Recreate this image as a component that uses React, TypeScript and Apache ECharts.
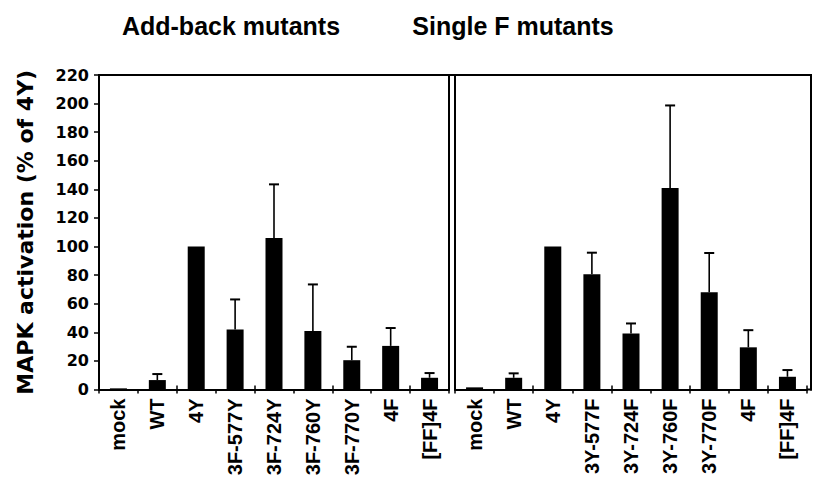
import React, { useEffect, useRef } from "react";
import * as echarts from "echarts";

const leftCategories = ["mock", "WT", "4Y", "3F-577Y", "3F-724Y", "3F-760Y", "3F-770Y", "4F", "[FF]4F"];
const leftMeans = [0.8, 6.6, 100, 42, 106, 41, 20.5, 30.5, 8.2];
const leftErrors = [0, 4.2, 0, 21, 37.5, 32.5, 9.4, 12.5, 3.3];

const rightCategories = ["mock", "WT", "4Y", "3Y-577F", "3Y-724F", "3Y-760F", "3Y-770F", "4F", "[FF]4F"];
const rightMeans = [1.5, 8.2, 100, 80.7, 39.2, 141, 68, 29.5, 8.9];
const rightErrors = [0, 3.1, 0, 15, 7, 57.7, 27.5, 12, 4.7];

const yTicks = { min: 0, max: 220, interval: 20 };

const panelTitles = ["Add-back mutants", "Single F mutants"];
const yAxisTitle = "MAPK activation (% of 4Y)";

const DV = "DejaVu Sans";
const LIB = "Liberation Sans";

function errorRender(params: any, api: any) {
  const idx = api.value(0);
  const mean = api.value(1);
  const err = api.value(2);
  if (!err) return { type: "group", children: [] };
  const base = api.coord([idx, mean]);
  const top = api.coord([idx, mean + err]);
  return {
    type: "group",
    children: [
      {
        type: "line",
        shape: { x1: base[0], y1: base[1], x2: top[0], y2: top[1] },
        style: { stroke: "#000", lineWidth: 1.6 },
      },
      {
        type: "line",
        shape: { x1: top[0] - 5, y1: top[1], x2: top[0] + 5, y2: top[1] },
        style: { stroke: "#000", lineWidth: 2 },
      },
    ],
  };
}

export default function App() {
  const ref = useRef<HTMLDivElement>(null);
  useEffect(() => {
    if (!ref.current) return;
    const chart = echarts.init(ref.current, null, { renderer: "svg" });
    const axisLine = { show: true, lineStyle: { color: "#000", width: 2 } };
    const xBase = (cats: string[], grid: number, inside: boolean, labels: boolean) => ({
      type: "category",
      gridIndex: grid,
      data: cats,
      position: "bottom",
      boundaryGap: true,
      axisLine: labels ? axisLine : { show: false },
      axisTick: { show: true, inside, length: 4, lineStyle: { color: "#000", width: 1.5 } },
      axisLabel: labels
        ? {
            show: true,
            rotate: 90,
            margin: 9,
            color: "#000",
            fontFamily: LIB,
            fontWeight: "bold",
            fontSize: 20,
            interval: 0,
          }
        : { show: false },
      splitLine: { show: false },
    });
    const titleStyle = { fontFamily: LIB, fontWeight: "bold", fontSize: 25, color: "#000" };
    const option: any = {
      animation: false,
      backgroundColor: "#fff",
      title: [
        { text: panelTitles[0], left: 226, top: 8, textAlign: "center", textStyle: titleStyle },
        { text: panelTitles[1], left: 508, top: 8, textAlign: "center", textStyle: titleStyle },
      ],
      grid: [
        { left: 99, right: 818 - 449, top: 75, bottom: 481 - 389.5 },
        { left: 455, right: 818 - 807, top: 75, bottom: 481 - 389.5 },
      ],
      xAxis: [
        xBase(leftCategories, 0, false, true),
        xBase(leftCategories, 0, true, false),
        xBase(rightCategories, 1, false, true),
        xBase(rightCategories, 1, true, false),
      ],
      yAxis: [
        {
          type: "value",
          gridIndex: 0,
          ...yTicks,
          name: yAxisTitle,
          nameLocation: "middle",
          nameGap: 63,
          nameRotate: 90,
          nameTextStyle: { fontFamily: DV, fontWeight: "bold", fontSize: 22, color: "#000" },
          axisLine,
          axisTick: { show: true, inside: false, length: 5, lineStyle: { color: "#000", width: 1.5 } },
          axisLabel: { show: true, margin: 10, color: "#000", fontFamily: DV, fontWeight: "bold", fontSize: 16 },
          splitLine: { show: false },
        },
        {
          type: "value",
          gridIndex: 0,
          position: "right",
          ...yTicks,
          axisLine,
          axisTick: { show: false },
          axisLabel: { show: false },
          splitLine: { show: false },
        },
        {
          type: "value",
          gridIndex: 1,
          position: "left",
          ...yTicks,
          axisLine,
          axisTick: { show: false },
          axisLabel: { show: false },
          splitLine: { show: false },
        },
      ],
      graphic: [
        {
          type: "line",
          shape: { x1: 98, y1: 75, x2: 812, y2: 75 },
          style: { stroke: "#000", lineWidth: 2 },
        },
        {
          type: "line",
          shape: { x1: 811, y1: 75, x2: 811, y2: 390.5 },
          style: { stroke: "#000", lineWidth: 2 },
        },
        {
          type: "line",
          shape: { x1: 807, y1: 389.5, x2: 812, y2: 389.5 },
          style: { stroke: "#000", lineWidth: 2 },
        },
      ],
      series: [
        {
          type: "bar",
          xAxisIndex: 0,
          yAxisIndex: 0,
          data: leftMeans,
          barWidth: 17,
          itemStyle: { color: "#000" },
        },
        {
          type: "custom",
          xAxisIndex: 0,
          yAxisIndex: 0,
          renderItem: errorRender,
          data: leftMeans.map((m, i) => [i, m, leftErrors[i]]),
          z: 3,
        },
        {
          type: "bar",
          xAxisIndex: 2,
          yAxisIndex: 2,
          data: rightMeans,
          barWidth: 17,
          itemStyle: { color: "#000" },
        },
        {
          type: "custom",
          xAxisIndex: 2,
          yAxisIndex: 2,
          renderItem: errorRender,
          data: rightMeans.map((m, i) => [i, m, rightErrors[i]]),
          z: 3,
        },
      ],
    };
    chart.setOption(option);
    return () => chart.dispose();
  }, []);
  return (
    <div
      ref={ref}
      style={{ position: "fixed", left: 0, top: 0, width: 818, height: 481, background: "#fff" }}
    />
  );
}
